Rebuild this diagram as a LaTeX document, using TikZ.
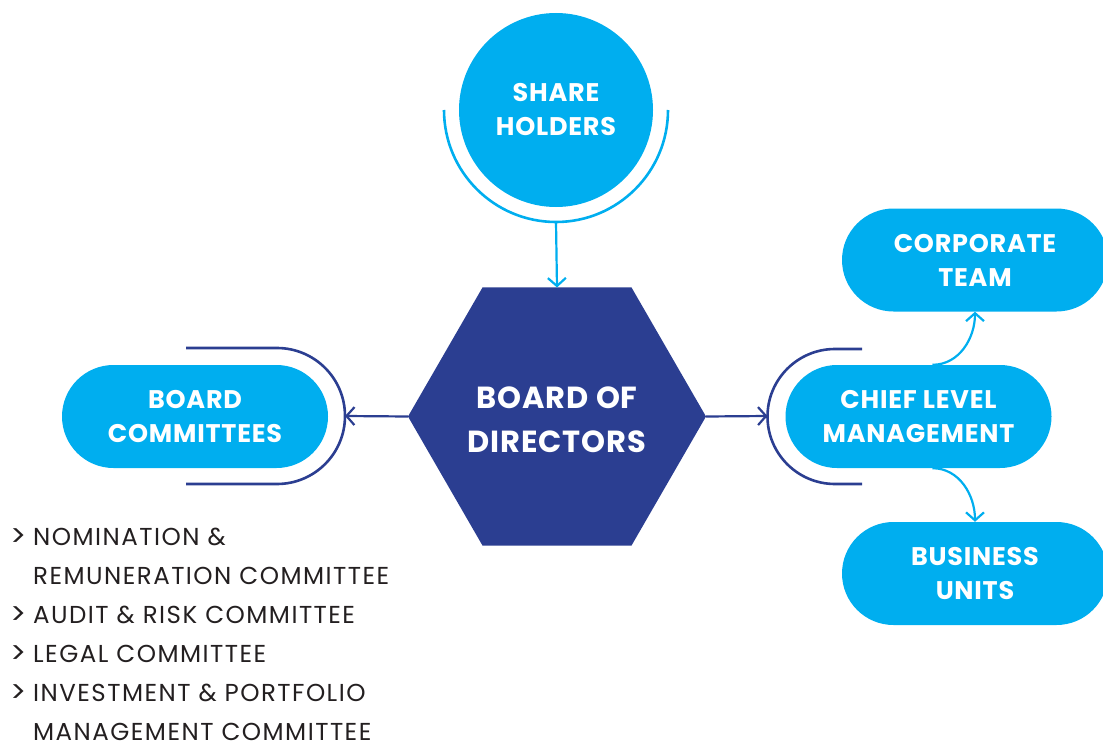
\documentclass[tikz,border=0pt]{standalone}
\usepackage{fontspec}
\setmainfont{Poppins}
\usetikzlibrary{arrows.meta,shapes.geometric}
\definecolor{lblue}{HTML}{00AEEF}
\definecolor{dblue}{HTML}{2B3E91}
\definecolor{ltext}{HTML}{231F20}
\newcommand{\lblfont}{\fontsize{25.5}{34}\selectfont\bfseries\addfontfeatures{LetterSpace=3}}
\tikzset{
  pill/.style={fill=lblue, text=white, rounded corners=51.5pt, minimum width=266pt, minimum height=103pt, inner sep=0pt, align=center, font=\lblfont},
  lconn/.style={draw=lblue, line width=2.2pt, -{Straight Barb[length=8pt,width=18pt,line width=2.2pt]}},
  dconn/.style={draw=dblue, line width=2.2pt, -{Straight Barb[length=8pt,width=18pt,line width=2.2pt]}},
  lbracket/.style={draw=lblue, line width=2.6pt},
  dbracket/.style={draw=dblue, line width=2.6pt},
  listtext/.style={anchor=west, text=ltext, inner sep=0pt, font=\fontsize{24.5}{26}\selectfont\addfontfeatures{LetterSpace=6}},
  listmark/.style={anchor=west, text=ltext, inner sep=0pt, font=\fontsize{30}{30}\selectfont}
}
\begin{document}
\begin{tikzpicture}[x=1pt,y=-1pt]
\useasboundingbox (0,0) rectangle (1103,749);
% Shareholders
\node[circle, fill=lblue, minimum size=194pt, inner sep=0pt, text=white, align=center, font=\lblfont] (sh) at (556,110) {SHARE\\HOLDERS};
\draw[lbracket] (444,110) arc[start angle=180, end angle=360, radius=112pt];
\coordinate (shb) at (556,222);
% Board of directors
\node[regular polygon, regular polygon sides=6, minimum size=298pt, inner sep=0pt, outer sep=0pt, fill=dblue] (bod) at (557,416.5) {};
\node[text=white, align=center, font=\fontsize{30.5}{44}\selectfont\bfseries\addfontfeatures{LetterSpace=3}] (bodt) at (557,420) {BOARD OF\\DIRECTORS};
% Board committees
\node[pill] (bc) at (195,416.5) {BOARD\\COMMITTEES};
\draw[dbracket] (186,348) -- (277,348) arc[start angle=90, end angle=-90, radius=68pt] -- (186,484);
\coordinate (bcb) at (345,416);
% Chief level management
\node[pill] (clm) at (918.5,416.5) {CHIEF LEVEL\\MANAGEMENT};
\draw[dbracket] (862,349) -- (835,349) arc[start angle=90, end angle=270, radius=67.5pt] -- (862,484);
\coordinate (clmb) at (767.5,416);
% Corporate team, Business units
\node[pill] (ct) at (975,260) {CORPORATE\\TEAM};
\node[pill] (bu) at (975,573.5) {BUSINESS\\UNITS};
% Connectors
\draw[lconn] (shb) -- (bod.north);
\draw[dconn] (bod.west) -- (bcb);
\draw[dconn] (bod.east) -- (clmb);
\draw[lconn] (clm.north) ++(14,0) coordinate (clmt) (clmt) to[out=0, in=-90] (ct.south);
\draw[lconn] (clm.south) ++(14,0) coordinate (clms) (clms) to[out=0, in=90] (bu.north);
% List
\node[listmark] (l0) at (10,538) {>};
\node[listtext] (l1) at (33,537) {NOMINATION \&};
\node[listtext] (l2) at (33,576) {REMUNERATION COMMITTEE};
\node[listmark] (l3a) at (10,616) {>};
\node[listtext] (l3) at (33,615) {AUDIT \& RISK COMMITTEE};
\node[listmark] (l4a) at (10,655) {>};
\node[listtext] (l4) at (33,654) {LEGAL COMMITTEE};
\node[listmark] (l5a) at (10,694) {>};
\node[listtext] (l5) at (33,693) {INVESTMENT \& PORTFOLIO};
\node[listtext] (l6) at (33,732) {MANAGEMENT COMMITTEE};
\end{tikzpicture}
\end{document}
